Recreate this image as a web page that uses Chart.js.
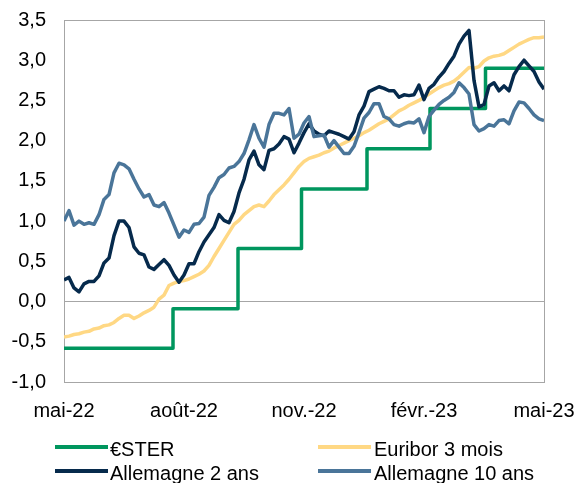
<!DOCTYPE html>
<html>
<head>
<meta charset="utf-8">
<script src="https://cdn.jsdelivr.net/npm/chart.js@4/dist/chart.umd.min.js"></script>
<style>
html,body{margin:0;padding:0;background:#fff;}
#wrap{position:relative;width:579px;height:483px;overflow:hidden;font-family:"Liberation Sans",Arial,sans-serif;}
#legend .txt{position:absolute;height:24px;line-height:24px;font-size:20px;color:#000;white-space:nowrap;}
#legend .sw{position:absolute;height:4px;width:53px;}
</style>
</head>
<body>
<div id="wrap"><canvas id="c" width="579" height="483"></canvas><div id="legend"></div></div>
<script>
// ---- Data ----
const tickLabels = ['mai-22', 'août-22', 'nov.-22', 'févr.-23', 'mai-23'];
const seriesNames = ['€STER', 'Euribor 3 mois', 'Allemagne 2 ans', 'Allemagne 10 ans'];
const seriesColors = ['#00965E', '#FFD884', '#062A4C', '#4A7599'];

// €STER: step changes (position on the 0–96 time index, new level)
const esterStepX = [0, 21.8, 34.8, 47.5, 60.6, 73.2, 84.3, 96];
const esterValues = [-0.58, -0.09, 0.66, 1.40, 1.90, 2.40, 2.90, 2.90];

// Daily-ish series sampled along the time index 0..96
const euribor3m = [
 -0.44,-0.43,-0.41,-0.40,-0.38,-0.37,-0.34,-0.33,-0.30,-0.29,
 -0.26,-0.21,-0.17,-0.17,-0.21,-0.18,-0.14,-0.11,-0.07,0.03,
 0.08,0.20,0.23,0.25,0.26,0.28,0.31,0.34,0.38,0.45,
 0.56,0.66,0.76,0.86,0.96,1.01,1.08,1.13,1.18,1.20,
 1.18,1.25,1.33,1.39,1.45,1.52,1.60,1.68,1.74,1.78,
 1.80,1.82,1.85,1.87,1.91,1.94,1.97,2.00,2.03,2.06,
 2.10,2.13,2.17,2.21,2.24,2.27,2.32,2.37,2.40,2.44,
 2.47,2.50,2.54,2.58,2.62,2.66,2.69,2.71,2.74,2.79,
 2.85,2.91,2.90,2.92,2.99,3.03,3.05,3.06,3.08,3.12,
 3.16,3.20,3.23,3.26,3.28,3.28,3.29
];
const germany2y = [
 0.27,0.30,0.17,0.12,0.22,0.25,0.25,0.32,0.48,0.54,
 0.82,1.00,1.00,0.92,0.68,0.60,0.58,0.43,0.40,0.46,
 0.52,0.45,0.33,0.24,0.33,0.47,0.47,0.62,0.74,0.83,
 0.92,1.08,1.01,0.98,1.12,1.35,1.52,1.76,1.87,1.70,
 1.64,1.88,1.90,1.96,2.05,2.02,1.85,1.97,2.10,2.21,
 2.12,2.08,2.06,2.12,2.10,2.08,2.05,2.02,2.11,2.32,
 2.43,2.61,2.64,2.67,2.65,2.62,2.62,2.54,2.57,2.56,
 2.57,2.69,2.51,2.65,2.70,2.79,2.86,2.96,3.05,3.20,
 3.30,3.37,2.75,2.42,2.45,2.68,2.72,2.62,2.68,2.62,
 2.82,2.92,3.00,2.93,2.86,2.73,2.64
];
const germany10y = [
 1.00,1.13,0.95,1.00,0.96,0.98,0.96,1.08,1.27,1.33,
 1.60,1.72,1.70,1.65,1.52,1.40,1.30,1.33,1.20,1.18,
 1.23,1.10,0.95,0.80,0.89,0.86,0.96,0.97,1.05,1.32,
 1.42,1.54,1.58,1.66,1.68,1.74,1.84,2.01,2.20,2.03,
 1.92,2.20,2.34,2.34,2.32,2.40,2.03,2.08,2.22,2.30,
 2.05,2.06,2.07,1.92,2.00,1.92,1.84,1.84,1.93,2.10,
 2.28,2.35,2.46,2.46,2.30,2.27,2.20,2.18,2.21,2.23,
 2.22,2.27,2.10,2.30,2.38,2.45,2.50,2.54,2.60,2.72,
 2.66,2.58,2.20,2.12,2.15,2.20,2.18,2.25,2.26,2.21,
 2.37,2.48,2.47,2.40,2.32,2.27,2.25
];

// ---- Chart ----
const GRAY = '#A6A6A6';
const FONT = '"Liberation Sans", Arial, sans-serif';
const toPts = vals => vals.map((v, i) => ({ x: i, y: v }));
const esterPts = esterStepX.map((x, i) => ({ x: x, y: esterValues[i] }));

const seriesData = [esterPts, toPts(euribor3m), toPts(germany2y), toPts(germany10y)];
const datasets = seriesData.map((d, i) => ({
  label: seriesNames[i],
  data: d,
  borderColor: seriesColors[i],
  backgroundColor: seriesColors[i],
  borderWidth: 3.5,
  pointRadius: 0,
  tension: 0,
  fill: false,
  borderJoinStyle: 'round',
  stepped: i === 0 ? 'before' : false,
  order: 3 - i
}));

new Chart(document.getElementById('c'), {
  type: 'line',
  data: { datasets },
  options: {
    responsive: false,
    animation: false,
    events: [],
    layout: { padding: { top: 20, right: 35, bottom: 61, left: 0 } },
    plugins: { legend: { display: false }, tooltip: { enabled: false } },
    scales: {
      x: {
        type: 'linear',
        min: 0, max: 96,
        afterFit: s => { s.height = 40; s.paddingLeft = 0; s.paddingRight = 0; },
        ticks: {
          stepSize: 24, autoSkip: false, maxRotation: 0, padding: 17,
          color: '#000', font: { size: 20, family: FONT },
          callback: v => tickLabels[Math.round(v / 24)] ?? ''
        },
        grid: {
          drawTicks: false,
          color: c => (c.tick && c.tick.value === 96) ? GRAY : 'rgba(0,0,0,0)'
        },
        border: { display: true, color: GRAY, width: 1 }
      },
      y: {
        min: -1, max: 3.5,
        afterFit: s => { s.width = 64; s.paddingTop = 0; s.paddingBottom = 0; },
        ticks: {
          stepSize: 0.5, padding: 18,
          color: '#000', font: { size: 20, family: FONT },
          callback: v => Number(v).toFixed(1).replace('.', ',')
        },
        grid: {
          drawTicks: false,
          color: c => (c.tick && (Math.abs(c.tick.value) < 1e-9 || Math.abs(c.tick.value - 3.5) < 1e-9)) ? GRAY : 'rgba(0,0,0,0)'
        },
        border: { display: true, color: GRAY, width: 1 }
      }
    }
  }
});

// ---- Legend (two columns, real text) ----
const legend = document.getElementById('legend');
const colSwatchX = [55, 318], colTextX = [110, 374];
const rowSwatchY = [445, 469], rowTextY = [437, 461];
seriesNames.forEach((name, i) => {
  const col = i % 2, row = Math.floor(i / 2);
  const sw = document.createElement('div');
  sw.className = 'sw';
  sw.style.left = colSwatchX[col] + 'px';
  sw.style.top = rowSwatchY[row] + 'px';
  sw.style.background = seriesColors[i];
  legend.appendChild(sw);
  const t = document.createElement('div');
  t.className = 'txt';
  t.style.left = colTextX[col] + 'px';
  t.style.top = rowTextY[row] + 'px';
  t.textContent = name;
  legend.appendChild(t);
});
</script>
</body>
</html>
